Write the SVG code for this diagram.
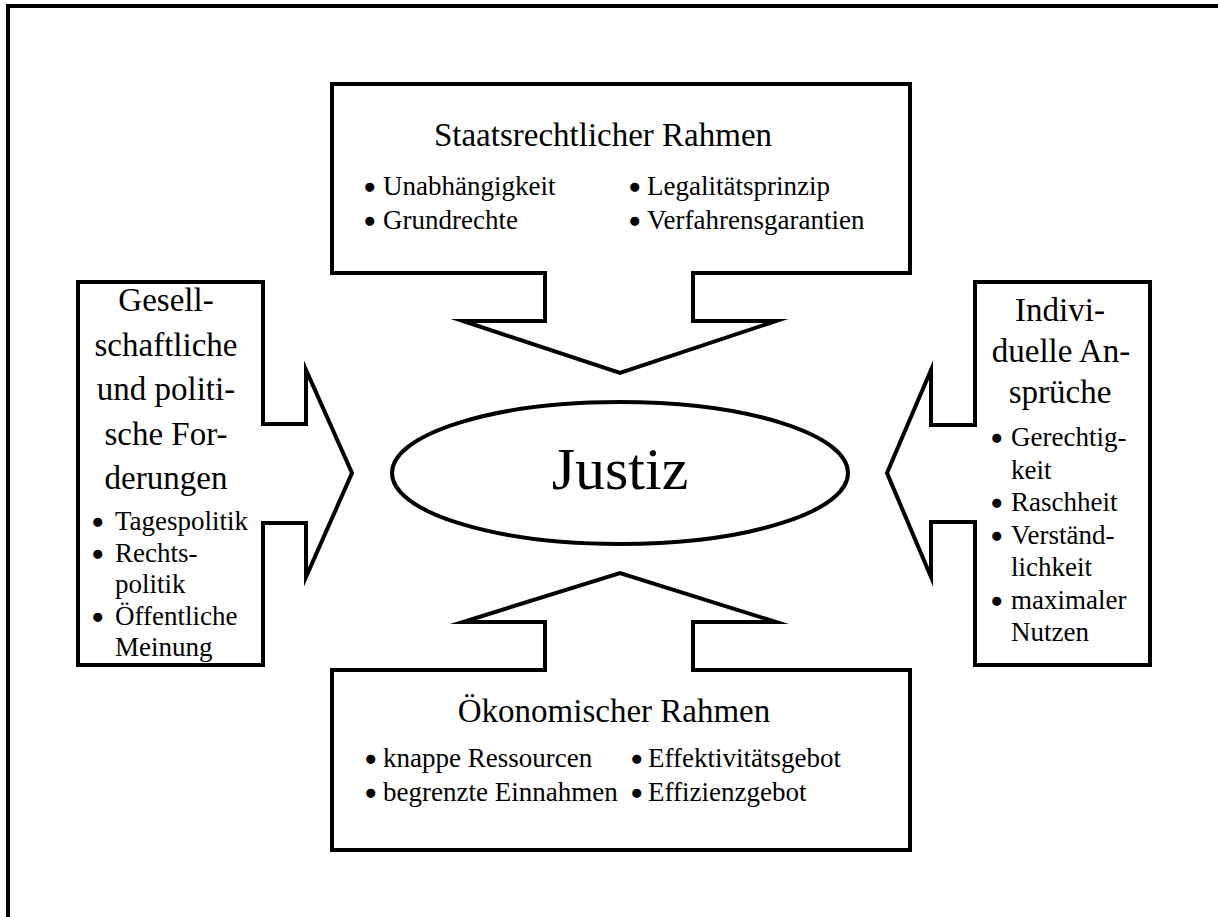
<svg xmlns="http://www.w3.org/2000/svg" width="1218" height="917" viewBox="0 0 1218 917">
  <style>
    .shape { fill: #fff; stroke: #000; stroke-width: 4; stroke-linejoin: miter; stroke-miterlimit: 10; }
    .frame { fill: none; stroke: #000; stroke-width: 4; }
    text { font-family: "Liberation Serif", "Times New Roman", serif; fill: #000; }
    .title { font-size: 33px; text-anchor: middle; }
    .item { font-size: 27px; }
    .bullet { stroke: #000; stroke-width: 2.6px; }
    .center { font-size: 60px; text-anchor: middle; }
  </style>

  <!-- outer frame -->
  <rect class="frame" x="8" y="6" width="1230" height="930"/>

  <!-- block arrows pointing at the centre -->
  <g id="connectors">
    <path id="arrow-top" class="shape" d="M332,84 H910 V273 H693 V321 H776 L620,373 L463,321 H545 V273 H332 Z"/>
    <path id="arrow-bottom" class="shape" d="M332,850 H910 V670 H693 V622 H776 L620,573 L463,622 H545 V670 H332 Z"/>
    <path id="arrow-left" class="shape" d="M78,282 H263 V424 H306 V370 L352,473 L306,577 V523 H263 V665 H78 Z"/>
    <path id="arrow-right" class="shape" d="M1150,282 H975 V425 H931 V370 L887,473 L931,577 V522 H975 V665 H1150 Z"/>
  </g>

  <!-- centre -->
  <g id="justiz">
    <ellipse class="shape" cx="620" cy="473" rx="228" ry="71"/>
    <text class="center" x="620" y="489">Justiz</text>
  </g>

  <!-- top: constitutional framework -->
  <g id="staatsrecht">
    <text class="title" x="603" y="146">Staatsrechtlicher Rahmen</text>
    <text class="item" y="195"><tspan class="bullet" x="365" dy="2">•</tspan><tspan x="383" dy="-2">Unabhängigkeit</tspan></text>
    <text class="item" y="229"><tspan class="bullet" x="365" dy="2">•</tspan><tspan x="383" dy="-2">Grundrechte</tspan></text>
    <text class="item" y="195"><tspan class="bullet" x="630" dy="2">•</tspan><tspan x="647" dy="-2">Legalitätsprinzip</tspan></text>
    <text class="item" y="229"><tspan class="bullet" x="630" dy="2">•</tspan><tspan x="647" dy="-2">Verfahrensgarantien</tspan></text>
  </g>

  <!-- bottom: economic framework -->
  <g id="oekonomie">
    <text class="title" x="614" y="722">Ökonomischer Rahmen</text>
    <text class="item" y="767"><tspan class="bullet" x="366" dy="2">•</tspan><tspan x="383" dy="-2">knappe Ressourcen</tspan></text>
    <text class="item" y="801"><tspan class="bullet" x="366" dy="2">•</tspan><tspan x="383" dy="-2">begrenzte Einnahmen</tspan></text>
    <text class="item" y="767"><tspan class="bullet" x="632" dy="2">•</tspan><tspan x="648" dy="-2">Effektivitätsgebot</tspan></text>
    <text class="item" y="801"><tspan class="bullet" x="632" dy="2">•</tspan><tspan x="648" dy="-2">Effizienzgebot</tspan></text>
  </g>

  <!-- left: social and political demands -->
  <g id="gesellschaft">
    <text class="title" x="166" y="311">Gesell-</text>
    <text class="title" x="166" y="355.5">schaftliche</text>
    <text class="title" x="166" y="400">und politi-</text>
    <text class="title" x="166" y="444.5">sche For-</text>
    <text class="title" x="166" y="489">derungen</text>
    <text class="item" y="530"><tspan class="bullet" x="93" dy="2">•</tspan><tspan x="115" dy="-2">Tagespolitik</tspan></text>
    <text class="item" y="561.5"><tspan class="bullet" x="93" dy="2">•</tspan><tspan x="115" dy="-2">Rechts-</tspan><tspan x="115" dy="31.5">politik</tspan></text>
    <text class="item" y="624.5"><tspan class="bullet" x="93" dy="2">•</tspan><tspan x="115" dy="-2">Öffentliche</tspan><tspan x="115" dy="31.5">Meinung</tspan></text>
  </g>

  <!-- right: individual claims -->
  <g id="individuell">
    <text class="title" x="1060" y="321">Indivi-</text>
    <text class="title" x="1061" y="362">duelle An-</text>
    <text class="title" x="1060" y="403">sprüche</text>
    <text class="item" y="446"><tspan class="bullet" x="992" dy="2">•</tspan><tspan x="1011" dy="-2">Gerechtig-</tspan><tspan x="1011" dy="32.5">keit</tspan></text>
    <text class="item" y="511"><tspan class="bullet" x="992" dy="2">•</tspan><tspan x="1011" dy="-2">Raschheit</tspan></text>
    <text class="item" y="543.5"><tspan class="bullet" x="992" dy="2">•</tspan><tspan x="1011" dy="-2">Verständ-</tspan><tspan x="1011" dy="32.5">lichkeit</tspan></text>
    <text class="item" y="608.5"><tspan class="bullet" x="992" dy="2">•</tspan><tspan x="1011" dy="-2">maximaler</tspan><tspan x="1011" dy="32.5">Nutzen</tspan></text>
  </g>
</svg>
